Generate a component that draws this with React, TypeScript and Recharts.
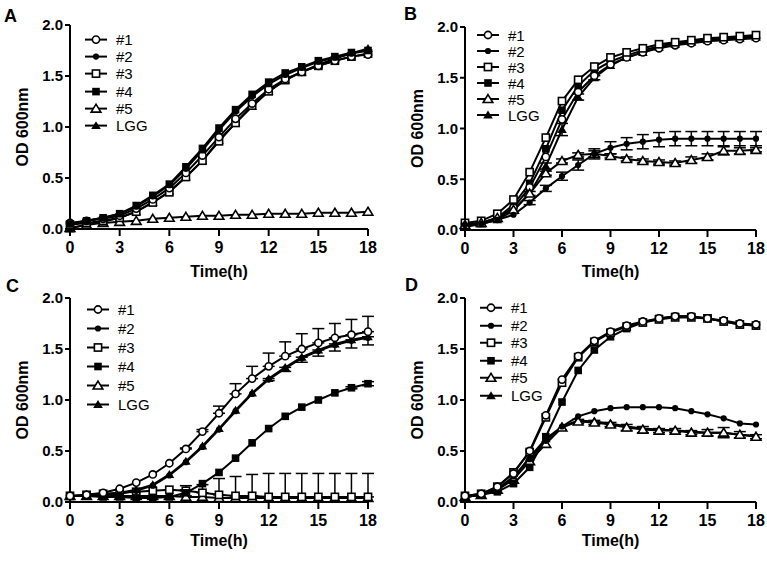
import { LineChart, Line, XAxis, YAxis, ErrorBar, Legend } from "recharts";

const FONT = "'Liberation Sans', Arial, Helvetica, sans-serif";

const hours = [0, 1, 2, 3, 4, 5, 6, 7, 8, 9, 10, 11, 12, 13, 14, 15, 16, 17, 18];
const xTicks = [0, 3, 6, 9, 12, 15, 18];
const yTicks = [0, 0.5, 1, 1.5, 2];
const seriesNames = ["#1", "#2", "#3", "#4", "#5", "LGG"];
// oc = open circle, fc = filled circle, os/fs = squares, ot/ft = triangles
const markerKinds = ["oc", "fc", "os", "fs", "ot", "ft"];

// panel A
const a1 = [0.06, 0.08, 0.1, 0.13, 0.2, 0.29, 0.4, 0.55, 0.72, 0.9, 1.08, 1.23, 1.37, 1.47, 1.54, 1.6, 1.65, 1.69, 1.71];
const a2 = [0.05, 0.08, 0.11, 0.15, 0.22, 0.32, 0.43, 0.59, 0.77, 0.97, 1.15, 1.3, 1.42, 1.51, 1.58, 1.64, 1.68, 1.72, 1.75];
const a3 = [0.04, 0.06, 0.08, 0.11, 0.17, 0.26, 0.36, 0.51, 0.67, 0.86, 1.04, 1.21, 1.35, 1.46, 1.54, 1.6, 1.65, 1.69, 1.72];
const a4 = [0.05, 0.08, 0.11, 0.15, 0.23, 0.33, 0.44, 0.61, 0.79, 0.99, 1.17, 1.32, 1.44, 1.53, 1.59, 1.65, 1.69, 1.73, 1.75];
const a5 = [0.01, 0.04, 0.06, 0.07, 0.08, 0.1, 0.11, 0.12, 0.13, 0.13, 0.14, 0.14, 0.15, 0.15, 0.15, 0.16, 0.16, 0.16, 0.17];
const a6 = [0.0, 0.05, 0.07, 0.11, 0.17, 0.26, 0.37, 0.51, 0.67, 0.87, 1.04, 1.2, 1.35, 1.46, 1.54, 1.61, 1.67, 1.72, 1.77];

// panel B
const b1 = [0.06, 0.07, 0.11, 0.22, 0.42, 0.72, 1.09, 1.36, 1.52, 1.63, 1.7, 1.75, 1.79, 1.82, 1.84, 1.86, 1.87, 1.88, 1.89];
const b2 = [0.05, 0.06, 0.1, 0.15, 0.27, 0.41, 0.53, 0.64, 0.75, 0.81, 0.85, 0.87, 0.89, 0.9, 0.9, 0.9, 0.9, 0.9, 0.9];
const b2Err = [0, 0, 0, 0, 0.02, 0.03, 0.04, 0.05, 0.05, 0.06, 0.06, 0.07, 0.07, 0.07, 0.07, 0.07, 0.07, 0.07, 0.07];
const b3 = [0.07, 0.09, 0.16, 0.3, 0.57, 0.91, 1.27, 1.48, 1.61, 1.7, 1.75, 1.79, 1.83, 1.85, 1.87, 1.89, 1.9, 1.91, 1.92];
const b4 = [0.05, 0.07, 0.12, 0.25, 0.46, 0.8, 1.18, 1.42, 1.57, 1.66, 1.72, 1.77, 1.81, 1.84, 1.86, 1.88, 1.89, 1.9, 1.91];
const b5 = [0.05, 0.07, 0.12, 0.2, 0.36, 0.56, 0.68, 0.74, 0.75, 0.73, 0.7, 0.68, 0.67, 0.66, 0.69, 0.72, 0.78, 0.78, 0.79];
const b5Err = [0, 0, 0, 0, 0, 0.02, 0.02, 0.02, 0.03, 0.02, 0.02, 0.02, 0.02, 0.02, 0.03, 0.03, 0.04, 0.03, 0.02];
const b6 = [0.03, 0.06, 0.1, 0.19, 0.36, 0.63, 0.99, 1.31, 1.5, 1.62, 1.7, 1.75, 1.8, 1.83, 1.85, 1.87, 1.88, 1.89, 1.9];
const b6Err = [0, 0, 0, 0, 0.02, 0.03, 0.06, 0.03, 0.02, 0, 0, 0, 0, 0, 0, 0, 0, 0, 0];

// panel C
const c1 = [0.06, 0.07, 0.09, 0.13, 0.19, 0.27, 0.38, 0.52, 0.69, 0.87, 1.06, 1.21, 1.33, 1.43, 1.5, 1.56, 1.61, 1.64, 1.67];
const c1Err = [0, 0, 0, 0, 0, 0, 0, 0.01, 0.02, 0.07, 0.1, 0.12, 0.13, 0.14, 0.15, 0.14, 0.14, 0.15, 0.15];
const c2 = [0.06, 0.06, 0.06, 0.08, 0.11, 0.16, 0.26, 0.39, 0.54, 0.71, 0.89, 1.06, 1.2, 1.31, 1.41, 1.48, 1.54, 1.58, 1.61];
const c3 = [0.06, 0.07, 0.08, 0.09, 0.1, 0.11, 0.12, 0.11, 0.09, 0.07, 0.06, 0.06, 0.05, 0.05, 0.05, 0.05, 0.05, 0.05, 0.05];
const c3Err = [0, 0, 0, 0, 0, 0, 0, 0.05, 0.08, 0.16, 0.19, 0.21, 0.23, 0.23, 0.23, 0.23, 0.23, 0.23, 0.23];
const c4 = [0.06, 0.06, 0.05, 0.05, 0.04, 0.04, 0.05, 0.09, 0.18, 0.29, 0.43, 0.58, 0.72, 0.84, 0.93, 1.0, 1.07, 1.12, 1.16];
const c4Err = [0, 0, 0, 0, 0, 0, 0, 0.03, 0, 0, 0, 0, 0, 0, 0, 0, 0, 0.01, 0.02];
const c5 = [0.06, 0.06, 0.06, 0.06, 0.06, 0.06, 0.06, 0.05, 0.05, 0.04, 0.04, 0.04, 0.04, 0.04, 0.04, 0.04, 0.04, 0.04, 0.04];
const c6 = [0.06, 0.06, 0.07, 0.09, 0.12, 0.17, 0.27, 0.4, 0.55, 0.72, 0.9, 1.07, 1.21, 1.32, 1.42, 1.49, 1.55, 1.59, 1.62];
const c6Err = [0, 0, 0, 0, 0, 0, 0, 0, 0, 0, 0, 0, 0.02, 0.04, 0.05, 0.06, 0.07, 0.08, 0.08];

// panel D
const d1 = [0.06, 0.08, 0.15, 0.28, 0.5, 0.85, 1.2, 1.43, 1.58, 1.67, 1.73, 1.77, 1.8, 1.82, 1.82, 1.8, 1.78, 1.75, 1.74];
const d2 = [0.05, 0.07, 0.13, 0.25, 0.42, 0.6, 0.74, 0.84, 0.89, 0.92, 0.93, 0.93, 0.93, 0.92, 0.89, 0.86, 0.82, 0.77, 0.76];
const d3 = [0.06, 0.08, 0.15, 0.29, 0.49, 0.83, 1.17, 1.42, 1.57, 1.66, 1.72, 1.76, 1.79, 1.81, 1.81, 1.8, 1.77, 1.74, 1.73];
const d4 = [0.05, 0.07, 0.1, 0.18, 0.34, 0.64, 0.98, 1.29, 1.49, 1.62, 1.7, 1.76, 1.8, 1.82, 1.82, 1.8, 1.77, 1.74, 1.73];
const d5 = [0.05, 0.07, 0.12, 0.22, 0.4, 0.57, 0.73, 0.79, 0.78, 0.76, 0.73, 0.71, 0.7, 0.7, 0.68, 0.68, 0.68, 0.66, 0.64];
const d5Err = [0, 0, 0, 0, 0, 0, 0, 0.02, 0.02, 0.02, 0.03, 0.03, 0.02, 0.02, 0.02, 0.03, 0.05, 0.03, 0.02];
const d6 = [0.05, 0.07, 0.12, 0.24, 0.44, 0.62, 0.74, 0.8, 0.79, 0.77, 0.74, 0.72, 0.71, 0.7, 0.69, 0.68, 0.68, 0.66, 0.65];

type Dir = "up" | "down" | "both";
type S = { idx: number; values: number[]; err?: number[]; dir?: Dir };

function Marker({ kind, cx, cy }: { kind: string; cx: number; cy: number }) {
  const sw = 1.6;
  if (kind === "oc") return <circle cx={cx} cy={cy} r={3.6} fill="#fff" stroke="#000" strokeWidth={sw} />;
  if (kind === "fc") return <circle cx={cx} cy={cy} r={3.1} fill="#000" />;
  if (kind === "os")
    return <rect x={cx - 3.6} y={cy - 3.6} width={7.2} height={7.2} fill="#fff" stroke="#000" strokeWidth={sw} />;
  if (kind === "fs") return <rect x={cx - 3.8} y={cy - 3.8} width={7.6} height={7.6} fill="#000" />;
  const h = 4.4;
  const pts = `${cx},${cy - h} ${cx + h * 1.1},${cy + h * 0.8} ${cx - h * 1.1},${cy + h * 0.8}`;
  if (kind === "ot") return <polygon points={pts} fill="#fff" stroke="#000" strokeWidth={sw} />;
  return <polygon points={pts} fill="#000" />;
}

function LegendRows({ payload, rowH }: any) {
  const items = [...(payload || [])].sort(
    (p: any, q: any) => seriesNames.indexOf(p.value) - seriesNames.indexOf(q.value)
  );
  return (
    <div style={{ fontFamily: FONT, fontSize: 15, color: "#000" }}>
      {items.map((it: any) => (
        <div key={it.value} style={{ display: "flex", alignItems: "center", height: rowH }}>
          <svg width={22} height={rowH} style={{ overflow: "visible" }}>
            <line x1={0} y1={rowH / 2} x2={22} y2={rowH / 2} stroke="#000" strokeWidth={2} />
            <Marker kind={markerKinds[seriesNames.indexOf(it.value)]} cx={11} cy={rowH / 2} />
          </svg>
          <span style={{ marginLeft: 9, lineHeight: 1 }}>{it.value}</span>
        </div>
      ))}
    </div>
  );
}

type PanelProps = {
  letter: string;
  series: S[];
  order: number[];
  left: number;
  top: number;
  width: number;
  height: number;
  margin: { top: number; right: number; left: number };
  xAxisH: number;
  titleOffset: number;
  legendPos: { left: number; top: number; rowH: number };
  letterPos: { left: number; top: number };
};

function Panel(p: PanelProps) {
  const rows = hours.map((t, i) => {
    const r: any = { t };
    p.series.forEach((s) => {
      r["s" + s.idx] = s.values[i];
      if (s.err) {
        const e = s.err[i];
        r["e" + s.idx] = e === 0 ? 0 : s.dir === "up" ? [0, e] : s.dir === "down" ? [e, 0] : e;
      }
    });
    return r;
  });
  const tickStyle = { fontSize: 15, fontWeight: 700, fill: "#000", fontFamily: FONT };
  const titleStyle = { fontSize: 16, fontWeight: 700, fill: "#000", fontFamily: FONT };
  return (
    <div style={{ position: "absolute", left: p.left, top: p.top, width: p.width, height: p.height }}>
      <LineChart
        width={p.width}
        height={p.height}
        data={rows}
        margin={{ top: p.margin.top, right: p.margin.right, left: p.margin.left, bottom: 0 }}
      >
        <XAxis
          type="number"
          dataKey="t"
          domain={[0, 18]}
          ticks={xTicks}
          height={p.xAxisH}
          tick={{ ...tickStyle, fontSize: 16 }}
          tickSize={7}
          tickMargin={6}
          axisLine={{ stroke: "#000", strokeWidth: 2 }}
          tickLine={{ stroke: "#000", strokeWidth: 2 }}
          label={{ value: "Time(h)", position: "insideBottom", offset: p.titleOffset, style: titleStyle }}
        />
        <YAxis
          type="number"
          domain={[0, 2]}
          ticks={yTicks}
          width={70}
          tick={tickStyle}
          tickSize={5}
          tickMargin={2}
          tickFormatter={(v: number) => v.toFixed(1)}
          axisLine={{ stroke: "#000", strokeWidth: 2 }}
          tickLine={{ stroke: "#000", strokeWidth: 2 }}
          label={{
            value: "OD 600nm",
            angle: -90,
            position: "insideLeft",
            offset: 22,
            style: { ...titleStyle, textAnchor: "middle" },
          }}
        />
        <Legend
          layout="vertical"
          verticalAlign="middle"
          align="center"
          wrapperStyle={{ left: p.legendPos.left, top: p.legendPos.top, width: 80 }}
          content={(props: any) => <LegendRows payload={props.payload} rowH={p.legendPos.rowH} />}
        />
        {p.order.map((idx) => {
          const s = p.series.find((x) => x.idx === idx)!;
          const kind = markerKinds[idx - 1];
          return (
            <Line
              key={idx}
              type="linear"
              dataKey={"s" + idx}
              name={seriesNames[idx - 1]}
              stroke="#000"
              strokeWidth={2}
              isAnimationActive={false}
              dot={(d: any) => <Marker key={`${idx}-${d.index}`} kind={kind} cx={d.cx} cy={d.cy} />}
              activeDot={false}
            >
              {s.err && (
                <ErrorBar dataKey={"e" + idx} width={6} strokeWidth={1.5} stroke="#000" direction="y" />
              )}
            </Line>
          );
        })}
      </LineChart>
      <div
        style={{
          position: "absolute",
          left: p.letterPos.left,
          top: p.letterPos.top,
          fontFamily: FONT,
          fontWeight: 700,
          fontSize: 18,
          lineHeight: 1,
        }}
      >
        {p.letter}
      </div>
    </div>
  );
}

export default function App() {
  const seriesA: S[] = [a1, a2, a3, a4, a5, a6].map((v, i) => ({ idx: i + 1, values: v }));
  const seriesB: S[] = [
    { idx: 1, values: b1 },
    { idx: 2, values: b2, err: b2Err, dir: "both" },
    { idx: 3, values: b3 },
    { idx: 4, values: b4 },
    { idx: 5, values: b5, err: b5Err, dir: "both" },
    { idx: 6, values: b6, err: b6Err, dir: "both" },
  ];
  const seriesC: S[] = [
    { idx: 1, values: c1, err: c1Err, dir: "up" },
    { idx: 2, values: c2 },
    { idx: 3, values: c3, err: c3Err, dir: "up" },
    { idx: 4, values: c4, err: c4Err, dir: "both" },
    { idx: 5, values: c5 },
    { idx: 6, values: c6, err: c6Err, dir: "down" },
  ];
  const seriesD: S[] = [
    { idx: 1, values: d1 },
    { idx: 2, values: d2 },
    { idx: 3, values: d3 },
    { idx: 4, values: d4 },
    { idx: 5, values: d5, err: d5Err, dir: "both" },
    { idx: 6, values: d6 },
  ];
  return (
    <div style={{ position: "absolute", left: 0, top: 0, width: 767, height: 561, background: "#fff" }}>
      <Panel
        letter="A"
        series={seriesA}
        order={[5, 6, 3, 1, 2, 4]}
        left={0}
        top={0}
        width={383}
        height={285}
        margin={{ top: 25, right: 15, left: 0 }}
        xAxisH={56}
        titleOffset={8}
        legendPos={{ left: 85, top: 31, rowH: 17.2 }}
        letterPos={{ left: 4, top: 7 }}
      />
      <Panel
        letter="B"
        series={seriesB}
        order={[6, 4, 1, 3, 5, 2]}
        left={383}
        top={0}
        width={384}
        height={285}
        margin={{ top: 27, right: 11, left: 12 }}
        xAxisH={55}
        titleOffset={8}
        legendPos={{ left: 94, top: 27, rowH: 16 }}
        letterPos={{ left: 21, top: 5 }}
      />
      <Panel
        letter="C"
        series={seriesC}
        order={[5, 3, 2, 6, 4, 1]}
        left={0}
        top={280}
        width={383}
        height={281}
        margin={{ top: 18, right: 15, left: 0 }}
        xAxisH={59}
        titleOffset={15}
        legendPos={{ left: 87, top: 20, rowH: 19 }}
        letterPos={{ left: 6, top: -3 }}
      />
      <Panel
        letter="D"
        series={seriesD}
        order={[6, 5, 2, 4, 3, 1]}
        left={383}
        top={280}
        width={384}
        height={281}
        margin={{ top: 18, right: 11, left: 12 }}
        xAxisH={59}
        titleOffset={15}
        legendPos={{ left: 97, top: 19, rowH: 17.5 }}
        letterPos={{ left: 22, top: -4 }}
      />
    </div>
  );
}
